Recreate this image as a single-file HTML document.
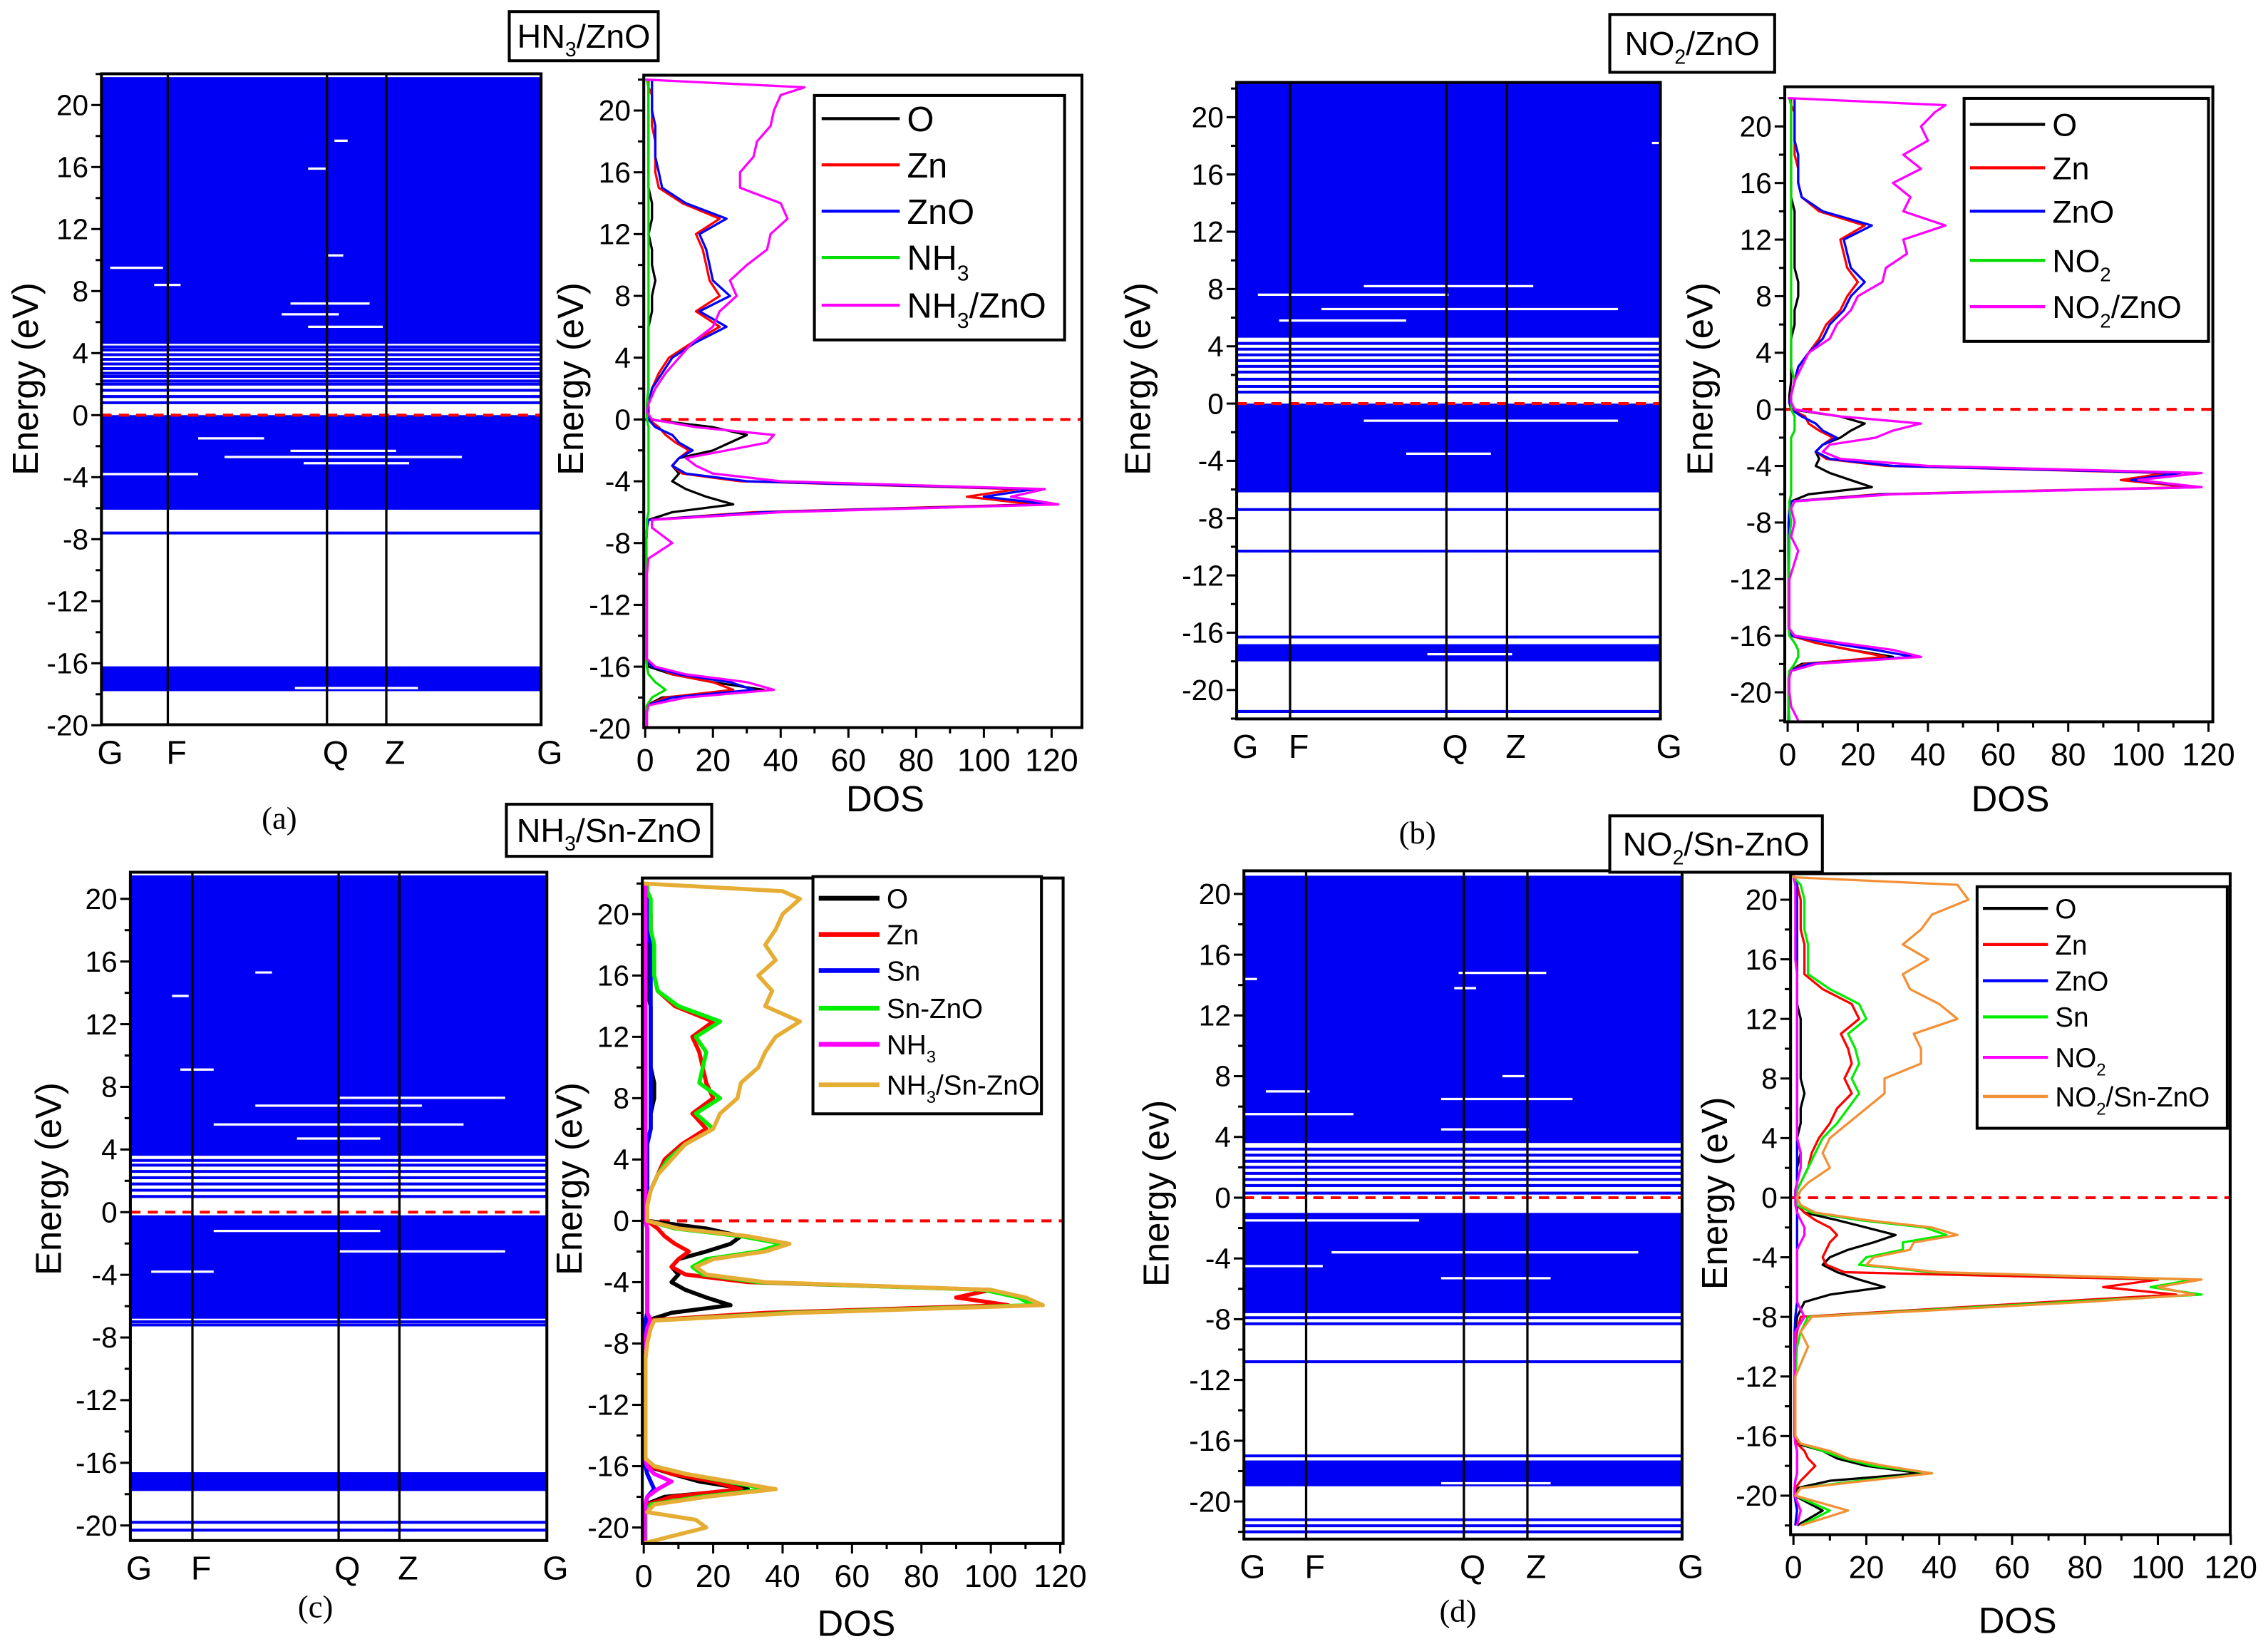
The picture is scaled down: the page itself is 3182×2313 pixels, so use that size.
<!DOCTYPE html>
<html><head><meta charset="utf-8">
<style>
html,body{margin:0;padding:0;background:#fff;}
svg{display:block;font-family:"Liberation Sans",Arial,sans-serif;}
</style></head>
<body>
<svg id="fig" xmlns="http://www.w3.org/2000/svg" width="3182" height="2313" viewBox="0 0 1568 1140">
<rect x="0" y="0" width="1568" height="1140" fill="#fff"/>
</svg>
<script>
// ---------- shared energy grid (eV) ----------
const E = [22,21.5,21,20,19,18,17,16,15,14,13,12,11,10,9,8,7,6,5,4,3,2,1,0.5,0,-0.5,-1,-1.5,-2,-2.5,-3,-3.5,-4,-4.5,-5,-5.5,-6,-6.5,-7,-8,-9,-10,-12,-14,-15.5,-16,-16.5,-17,-17.5,-18,-18.5,-19,-19.5,-20,-21,-22];
const yTicks = [20,16,12,8,4,0,-4,-8,-12,-16,-20];
const xTicks = [0,20,40,60,80,100,120];
const kLabels = ["G","F","Q","Z","G"];

// ---------- panel (a) NH3/ZnO ----------
const aTot = [0,47,40,38,37,33,32,28,28,40,42,37,36,30,25,27,22,20,14,10,6,3,1, 0.5,2, 15,38,36,24,12,15,20,40,118,108,122,40,2,2, 8,1,0.5,0.5,0.5, 0.5,3,12,30,38,12,1,0.5,0.5,0.5, 0.5,0.5];
const aZnO = [2,2,2,2,3,3,3,4,5,12,24,16,18,19,20,25,16,24,15,8,5,2,1, 1,1, 3,8,10,14,10,8,12,30,115,100,120,35,1,0.5, 0.3,0.3,0.3,0.3,0.3, 0.3,2,10,25,32,8,0.5,0.3,0.3,0.3, 0.3,0.3];
const aZn = [1,1,2,2,2,3,3,3,4,11,22,15,17,18,19,22,15,22,14,7,4,2,1, 0.5,1, 4,6,9,13,10,8,11,28,110,95,115,32,1,0.5, 0.3,0.3,0.3,0.3,0.3, 0.3,3,8,20,26,6,0.5,0.3,0.3,0.3, 0.3,0.3];
const aO = [0.5,1,1,1,1,1,1,1,1,2,2,1,2,2,3,2,2,1,1,1,1,1,0.5, 0.5,1, 20,30,25,20,10,8,10,8,12,18,26,8,1,0.5, 0.3,0.3,0.3,0.3,0.3, 0.3,1,8,20,35,5,0.5,0.3,0.3,0.3, 0.3,0.3];
const aNH3 = [0.5,1,1,1,1,1,1,1,1,1,1,1,1,1,1,1,1,1,1,1,1,1,0.5, 0.5,0.5, 1,1,1,1,1,1,1,1,1,1,1,1,0.5,0.5, 0.3,0.3,0.3,0.3,0.3, 0.3,0.5,1,3,6,2,0.5,0.3,0.3,0.3, 0.3,0.3];
const aFills = [[21.8,4.6],[0,-6.1],[-16.2,-17.8]];
const aLines = [4.4,4.2,3.9,3.6,3.3,3.0,2.7,2.5,2.2,2.0,1.6,1.2,0.8,-7.6];
const aGaps = [[17.7,0.53,0.56],[15.9,0.47,0.51],[10.3,0.51,0.55],[9.5,0.02,0.14],[8.4,0.12,0.18],[7.2,0.43,0.61],[6.5,0.41,0.54],[5.7,0.47,0.64],[-1.5,0.22,0.37],[-2.3,0.43,0.67],[-2.7,0.28,0.82],[-3.1,0.46,0.7],[-3.8,0,0.22],[-17.6,0.44,0.72]];

// ---------- panel (b) NO2/ZnO ----------
const bTot = [0,45,42,38,40,33,38,30,35,33,45,33,34,28,27,20,18,14,12,6,4,2,1, 1,2, 15,38,30,25,12,10,15,40,118,100,118,30,2,1, 2,1,3,0.5,0.5, 0.5,2,15,30,38,8,1,0.5,0.5,0.5, 1,3];
const bZnO = [2,2,2,2,2,3,3,3,4,10,24,16,17,18,22,18,16,12,10,6,3,2,1, 0.5,1, 4,8,10,14,10,8,12,30,112,98,118,28,1,0.5, 0.3,0.3,0.3,0.3,0.3, 0.3,1,12,25,36,6,0.5,0.3,0.3,0.3, 0.3,0.3];
const bZn = [1,1,2,2,2,2,3,3,4,9,22,15,16,17,20,17,15,11,9,6,3,2,1, 0.5,1, 5,6,9,13,10,8,11,28,108,95,115,26,1,0.5, 0.3,0.3,0.3,0.3,0.3, 0.3,1,8,18,28,5,0.5,0.3,0.3,0.3, 0.3,0.3];
const bO = [0.5,1,1,1,1,1,1,1,1,2,2,2,2,2,3,3,2,2,1,1,1,1,0.5, 0.5,1, 15,22,18,15,10,8,9,8,12,18,24,6,1,0.5, 0.3,0.3,0.3,0.3,0.3, 0.3,1,8,18,30,4,0.5,0.3,0.3,0.3, 0.3,0.3];
const bNO2 = [0.5,1,1,1,1,1,1,1,1,1,1,1,1,1,1,1,1,1,1,1,1,2,1, 1,1, 2,2,2,1,1,1,1,1,1,1,1,1,0.5,0.5, 1,0.5,0.5,0.3,0.3, 0.3,0.5,2,3,3,2,0.5,0.3,0.3,0.3, 0.3,0.5];
const bFills = [[22.4,4.6],[0,-6.2],[-16.8,-18.0]];
const bLines = [4.2,3.8,3.4,3.0,2.6,2.2,1.7,1.2,0.8,-7.4,-10.3,-16.3,-21.5];
const bGaps = [[18.2,0.98,1],[8.2,0.3,0.7],[7.6,0.05,0.5],[6.6,0.2,0.9],[5.8,0.1,0.4],[-1.2,0.3,0.9],[-3.5,0.4,0.6],[-17.5,0.45,0.65]];

// ---------- panel (c) NH3/Sn-ZnO ----------
const cTot = [0,40,45,40,38,35,38,33,37,35,45,38,35,33,28,27,22,20,12,8,4,2,1, 1,1, 10,30,42,35,20,15,18,35,100,110,115,45,3,2, 1,0.5,0.5,0.5,0.5, 0.5,3,12,25,38,18,3,1,15,18, 0.5,0.5];
const cSnZnO = [1,1,2,2,2,3,3,3,4,10,22,15,18,17,16,22,15,20,12,7,4,2,1, 1,1, 9,28,40,33,18,14,17,33,98,108,112,42,3,2, 0.5,0.5,0.5,0.5,0.5, 0.5,3,12,24,36,16,2,0.5,0.5,0.5, 0.5,0.5];
const cZn = [1,1,1,2,2,2,3,3,4,9,20,14,16,17,18,20,14,18,11,6,4,2,1, 0.5,1, 4,6,9,13,10,8,12,30,100,90,105,35,1,0.5, 0.3,0.3,0.3,0.3,0.3, 0.3,2,8,20,28,8,1,0.3,0.3,0.3, 0.3,0.3];
const cO = [0.5,1,1,1,1,1,1,1,1,2,2,2,2,2,3,3,2,2,1,1,1,1,0.5, 0.5,1, 18,28,25,18,10,8,10,8,12,18,25,8,1,0.5, 0.3,0.3,0.3,0.3,0.3, 0.3,1,8,16,30,6,0.5,0.3,0.3,0.3, 0.3,0.3];
const cSn = [0.5,1,1,1,1,2,2,2,2,2,2,2,2,2,2,2,2,2,1,1,1,1,0.5, 0.5,0.5, 1,1,1,1,1,1,1,1,1,1,1,1,0.5,0.5, 0.3,0.3,0.3,0.3,0.3, 0.3,0.5,1,2,3,1,0.5,0.3,0.3,0.3, 0.3,0.3];
const cNH3 = [0.5,0.5,0.5,0.5,0.5,0.5,0.5,0.5,0.5,0.5,0.5,0.5,0.5,0.5,0.5,0.5,0.5,0.5,0.5,0.5,0.5,0.5,0.5, 0.5,0.5, 1,1,1,1,1,1,1,1,1,1,1,1,2,1, 0.3,0.3,0.3,0.3,0.3, 0.3,1,3,8,4,1,0.5,0.3,0.3,0.3, 0.3,0.3];
const cFills = [[21.5,3.6],[-0.2,-6.8],[-16.6,-17.8]];
const cLines = [3.3,3.0,2.6,2.2,1.8,1.4,1.0,-7.0,-7.2,-19.8,-20.3];
const cGaps = [[15.3,0.3,0.34],[13.8,0.1,0.14],[9.1,0.12,0.2],[7.3,0.5,0.9],[6.8,0.3,0.7],[5.6,0.2,0.8],[4.7,0.4,0.6],[-1.2,0.2,0.6],[-2.5,0.5,0.9],[-3.8,0.05,0.2],[-17.9,0.4,0.7]];

// ---------- panel (d) NO2/Sn-ZnO ----------
const dTot = [0,0,45,48,38,35,30,37,30,32,40,45,33,35,35,25,25,20,15,10,8,10,4, 2,1, 2,6,20,38,45,33,32,22,20,40,112,100,110,80, 5,2,4,0.5,0.5, 0.5,0.5,2,10,15,25,38,20,2,0.5, 15,2];
const dSn = [0,0,2,3,3,3,4,4,4,10,18,20,15,17,18,16,18,15,12,8,6,4,2, 1,1, 1,5,18,36,42,30,30,20,18,38,110,98,112,75, 4,2,1,0.5,0.5, 0.5,0.5,2,8,14,22,38,18,2,0.5, 10,2];
const dZn = [0,0,1,2,2,2,3,3,3,8,16,18,13,15,16,14,16,12,10,7,5,4,2, 1,1, 1,3,6,10,12,10,9,8,9,14,100,85,105,70, 2,1,0.5,0.3,0.3, 0.3,0.3,1,3,4,6,4,2,0.5,0.3, 1,0.5];
const dO = [0,0,0.5,1,1,1,1,1,1,1,1,2,2,2,2,2,3,2,2,1,2,1,1, 0.5,0.5, 1,3,12,20,28,22,15,10,8,12,18,25,10,3, 1,0.5,0.5,0.3,0.3, 0.3,0.3,1,8,12,20,35,10,1,0.3, 8,1];
const dZnO = [0,0,1,1,1,1,1,1,1,1,1,1,1,1,1,1,1,1,1,1,1,1,1, 0.5,0.5, 1,1,1,1,1,1,1,1,1,1,1,1,1,1, 0.5,0.3,0.3,0.3,0.3, 0.3,0.3,0.5,1,1,1,1,0.5,0.3,0.3, 1,0.5];
const dNO2 = [0,0,0.5,0.5,0.5,0.5,0.5,0.5,1,1,1,1,1,1,1,1,1,1,1,1,2,2,1, 0.5,0.5, 0.5,1,2,3,3,2,1,1,1,1,1,1,1,1, 3,0.5,0.5,0.3,0.3, 0.3,0.3,0.5,1,1,1,1,0.5,0.3,0.3, 2,1];
const dFills = [[21.2,3.6],[-1,-7.6],[-17.3,-19.0]];
const dLines = [3.2,2.8,2.4,2.0,1.6,1.2,0.8,0.3,-7.9,-8.3,-10.8,-17.0,-21.2,-21.6,-22.0];
const dGaps = [[14.8,0.49,0.69],[14.4,0,0.03],[13.8,0.48,0.53],[8.0,0.59,0.64],[7.0,0.05,0.15],[6.5,0.45,0.75],[5.5,0,0.25],[4.5,0.45,0.65],[-1.5,0,0.4],[-3.6,0.2,0.9],[-4.5,0,0.18],[-5.3,0.45,0.7],[-18.8,0.45,0.7]];

// ---------- drawing helpers ----------
const NS = "http://www.w3.org/2000/svg";
const svg = document.getElementById("fig");
function mk(tag, attrs, parent) {
  const el = document.createElementNS(NS, tag);
  for (const k in attrs) el.setAttribute(k, attrs[k]);
  (parent || svg).appendChild(el);
  return el;
}
function yScale(p, e) { return p.y0 - p.k * e; }
function xScale(p, v) { return p.x0 + p.kx * v; }

function yAxis(p, grp) {
  for (let e = -22; e <= 22; e += 2) {
    const y = yScale(p, e);
    if (y < p.top - 0.5 || y > p.bot + 0.5) continue;
    const t = mk("line", {x1: p.L - (e % 4 === 0 ? 7 : 4), x2: p.L, y1: y, y2: y, stroke: "#000", "stroke-width": 1.5}, grp);
    
    
  }
  yTicks.forEach(v => {
    const y = yScale(p, v);
    if (y < p.top - 2 || y > p.bot + 2) return;
    const t = mk("text", {x: p.L - 9, y: y + 7, "text-anchor": "end", "font-size": 20}, grp);
    t.textContent = String(v);
    
    
  });
}

function bandPanel(p, fills, lines, gaps) {
  const g = mk("g", {});
  
  
  const W = p.R - p.L;
  fills.forEach(f => {
    const r = mk("rect", {x: p.L, y: yScale(p, f[0]), width: W, height: yScale(p, f[1]) - yScale(p, f[0]), fill: "#0000f5"}, g);
    
    
  });
  gaps.forEach(s => {
    const l = mk("line", {x1: p.L + W * s[1], x2: p.L + W * s[2], y1: yScale(p, s[0]), y2: yScale(p, s[0]), stroke: "#fff", "stroke-width": 1.6}, g);
    
    
  });
  lines.forEach(e => {
    const l = mk("line", {x1: p.L, x2: p.R, y1: yScale(p, e), y2: yScale(p, e), stroke: "#0000f5", "stroke-width": 2}, g);
    
    
  });
  const z = mk("line", {x1: p.L, x2: p.R, y1: yScale(p, 0), y2: yScale(p, 0), stroke: "#f00", "stroke-width": 2, "stroke-dasharray": "7,5"}, g);
  
  
  p.kx.forEach(f => {
    const x = p.L + W * f;
    const l = mk("line", {x1: x, x2: x, y1: p.top, y2: p.bot, stroke: "#000", "stroke-width": 1.6}, g);
    
    
  });
  const fr = mk("rect", {x: p.L, y: p.top, width: W, height: p.bot - p.top, fill: "none", stroke: "#000", "stroke-width": 2}, g);
  
  
  yAxis(p, g);
  const pos = [0].concat(p.kx).concat([1]);
  kLabels.forEach((s, i) => {
    const t = mk("text", {x: p.L + W * pos[i] + 6, y: p.bot + 27, "text-anchor": "middle", "font-size": 23}, g);
    t.textContent = s;
    
    
  });
  const a = mk("text", {x: 0, y: 0, transform: `translate(${p.ylx},${p.yly}) rotate(-90)`, "text-anchor": "middle", "font-size": 25}, g);
  a.textContent = p.ytitle || "Energy (eV)";
  
  
}

function dosPanel(p, series, legend) {
  const g = mk("g", {});
  
  
  const cid = p.name + "-clip";
  const cp = mk("clipPath", {id: cid}, g);
  mk("rect", {x: p.L, y: p.top, width: p.R - p.L, height: p.bot - p.top}, cp);
  const z = mk("line", {x1: p.L, x2: p.R, y1: yScale(p, 0), y2: yScale(p, 0), stroke: "#f00", "stroke-width": 2, "stroke-dasharray": "7,5"}, g);
  
  
  const cg = mk("g", {"clip-path": `url(#${cid})`}, g);
  series.forEach(s => {
    const d = E.map((e, i) => (i ? "L" : "M") + xScale(p, s.v[i]).toFixed(1) + "," + yScale(p, e).toFixed(1)).join("");
    const pth = mk("path", {d: d, fill: "none", stroke: s.c, "stroke-width": p.sw, "stroke-linejoin": "round"}, cg);
    
    
  });
  const fr = mk("rect", {x: p.L, y: p.top, width: p.R - p.L, height: p.bot - p.top, fill: "none", stroke: "#000", "stroke-width": 2}, g);
  
  
  yAxis(p, g);
  for (let v = 0; v <= 130; v += 10) {
    const x = xScale(p, v);
    if (x > p.R + 1) continue;
    const t = mk("line", {x1: x, x2: x, y1: p.bot, y2: p.bot + (v % 20 === 0 ? 7 : 4), stroke: "#000", "stroke-width": 1.5}, g);
    
    
  }
  xTicks.forEach(v => {
    const t = mk("text", {x: xScale(p, v), y: p.bot + 30, "text-anchor": "middle", "font-size": 22}, g);
    t.textContent = String(v);
    
    
  });
  const xt = mk("text", {x: p.xtx, y: p.xty, "text-anchor": "middle", "font-size": 25}, g);
  xt.textContent = "DOS";
  
  
  const a = mk("text", {x: 0, y: 0, transform: `translate(${p.ylx},${p.yly}) rotate(-90)`, "text-anchor": "middle", "font-size": 25}, g);
  a.textContent = "Energy (eV)";
  
  
  // legend
  const lg = mk("g", {}, g);
  
  
  const b = legend.box;
  mk("rect", {x: b[0], y: b[1], width: b[2] - b[0], height: b[3] - b[1], fill: "#fff", stroke: "#000", "stroke-width": 2}, lg);
  series.forEach((s, i) => {
    const y = legend.ys[i];
    const ln = mk("line", {x1: legend.lx[0], x2: legend.lx[1], y1: y, y2: y, stroke: s.c, "stroke-width": p.sw + 0.5}, lg);
    
    
    const t = mk("text", {x: legend.lx[1] + 5, y: y + legend.fs * 0.36, "font-size": legend.fs}, lg);
    
    
    const parts = s.label;
    parts.forEach(pt => {
      const ts = mk("tspan", {}, t);
      if (pt.sub) { ts.setAttribute("dy", legend.fs * 0.3); ts.setAttribute("font-size", legend.fs * 0.62); }
      else if (pt.after) { ts.setAttribute("dy", -legend.fs * 0.3); }
      ts.textContent = pt.t;
    });
  });
}
function L(a, sub, b) {
  const r = [{t: a}];
  if (sub) r.push({t: sub, sub: true});
  if (b) r.push({t: b, after: true});
  return r;
}
function titleBox(x0, y0, x1, y1, main, sub, rest, name) {
  const g = mk("g", {});
  
  
  mk("rect", {x: x0, y: y0, width: x1 - x0, height: y1 - y0, fill: "#fff", stroke: "#000", "stroke-width": 2}, g);
  const t = mk("text", {x: (x0 + x1) / 2, y: (y0 + y1) / 2 + 8, "text-anchor": "middle", "font-size": 23}, g);
  const a = mk("tspan", {}, t); a.textContent = main;
  const s = mk("tspan", {dy: 6, "font-size": 14}, t); s.textContent = sub;
  const r = mk("tspan", {dy: -6}, t); r.textContent = rest;
}
function caption(x, y, s) {
  const t = mk("text", {x: x, y: y, "text-anchor": "middle", "font-size": 22, "font-family": "Liberation Serif, serif"});
  t.textContent = s;
  
  
}

// ---------- panel (a) ----------
bandPanel({name: "band-structure-a", L: 70, R: 374, top: 51, bot: 501, y0: 287, k: 10.72, kx: [0.151, 0.513, 0.648], ylx: 26, yly: 262}, aFills, aLines, aGaps);
dosPanel({name: "dos-a", L: 445, R: 748, top: 52, bot: 503, y0: 290, k: 10.68, x0: 446, kx: 2.342, sw: 1.6, xtx: 612, xty: 561, ylx: 403, yly: 262},
  [{n: "series-O", c: "#000", v: aO, label: L("O")},
   {n: "series-Zn", c: "#f00", v: aZn, label: L("Zn")},
   {n: "series-ZnO", c: "#00f", v: aZnO, label: L("ZnO")},
   {n: "series-NH3", c: "#0d0", v: aNH3, label: L("NH", "3")},
   {n: "series-NH3-ZnO", c: "#f0f", v: aTot, label: L("NH", "3", "/ZnO")}],
  {box: [563, 66, 736, 235], ys: [82, 114, 146, 178, 211], lx: [568, 622], fs: 24});
titleBox(352, 8, 455, 42, "HN", "3", "/ZnO", "title-a");
caption(193, 573, "(a)");

// ---------- panel (b) ----------
bandPanel({name: "band-structure-b", L: 855, R: 1148, top: 57, bot: 497, y0: 279, k: 9.9, kx: [0.126, 0.495, 0.638], ylx: 795, yly: 262}, bFills, bLines, bGaps);
dosPanel({name: "dos-b", L: 1234, R: 1530, top: 60, bot: 499, y0: 283, k: 9.78, x0: 1236, kx: 2.425, sw: 1.6, xtx: 1390, xty: 561, ylx: 1184, yly: 262},
  [{n: "series-O", c: "#000", v: bO, label: L("O")},
   {n: "series-Zn", c: "#f00", v: bZn, label: L("Zn")},
   {n: "series-ZnO", c: "#00f", v: bZnO, label: L("ZnO")},
   {n: "series-NO2", c: "#0d0", v: bNO2, label: L("NO", "2")},
   {n: "series-NO2-ZnO", c: "#f0f", v: bTot, label: L("NO", "2", "/ZnO")}],
  {box: [1358, 68, 1527, 236], ys: [86, 116, 146, 180, 212], lx: [1362, 1414], fs: 22});
titleBox(1113, 10, 1227, 50, "NO", "2", "/ZnO", "title-b");
caption(980, 583, "(b)");

// ---------- panel (c) ----------
bandPanel({name: "band-structure-c", L: 90, R: 378, top: 603, bot: 1065, y0: 838, k: 10.83, kx: [0.149, 0.5, 0.646], ylx: 42, yly: 815}, cFills, cLines, cGaps);
dosPanel({name: "dos-c", L: 444, R: 735, top: 607, bot: 1067, y0: 844, k: 10.6, x0: 445, kx: 2.4, sw: 2.8, xtx: 592, xty: 1131, ylx: 402, yly: 815},
  [{n: "series-O", c: "#000", v: cO, label: L("O")},
   {n: "series-Zn", c: "#f00", v: cZn, label: L("Zn")},
   {n: "series-Sn", c: "#00f", v: cSn, label: L("Sn")},
   {n: "series-Sn-ZnO", c: "#0e0", v: cSnZnO, label: L("Sn-ZnO")},
   {n: "series-NH3", c: "#f0f", v: cNH3, label: L("NH", "3")},
   {n: "series-NH3-Sn-ZnO", c: "#e6ad35", v: cTot, label: L("NH", "3", "/Sn-ZnO")}],
  {box: [562, 606, 720, 770], ys: [621, 646, 671, 697, 722, 750], lx: [566, 608], fs: 19});
titleBox(350, 556, 492, 592, "NH", "3", "/Sn-ZnO", "title-c");
caption(218, 1118, "(c)");

// ---------- panel (d) ----------
bandPanel({name: "band-structure-d", L: 860, R: 1163, top: 602, bot: 1064, y0: 828, k: 10.5, kx: [0.142, 0.502, 0.647], ylx: 808, yly: 825, ytitle: "Energy (ev)"}, dFills, dLines, dGaps);
dosPanel({name: "dos-d", L: 1238, R: 1542, top: 604, bot: 1061, y0: 828, k: 10.3, x0: 1240, kx: 2.52, sw: 1.6, xtx: 1395, xty: 1129, ylx: 1194, yly: 825},
  [{n: "series-O", c: "#000", v: dO, label: L("O")},
   {n: "series-Zn", c: "#f00", v: dZn, label: L("Zn")},
   {n: "series-ZnO", c: "#00f", v: dZnO, label: L("ZnO")},
   {n: "series-Sn", c: "#0e0", v: dSn, label: L("Sn")},
   {n: "series-NO2", c: "#f0f", v: dNO2, label: L("NO", "2")},
   {n: "series-NO2-Sn-ZnO", c: "#f39035", v: dTot, label: L("NO", "2", "/Sn-ZnO")}],
  {box: [1367, 613, 1540, 780], ys: [628, 653, 678, 703, 731, 758], lx: [1371, 1416], fs: 19});
titleBox(1113, 564, 1260, 603, "NO", "2", "/Sn-ZnO", "title-d");
caption(1008, 1121, "(d)");
</script>
</body></html>
